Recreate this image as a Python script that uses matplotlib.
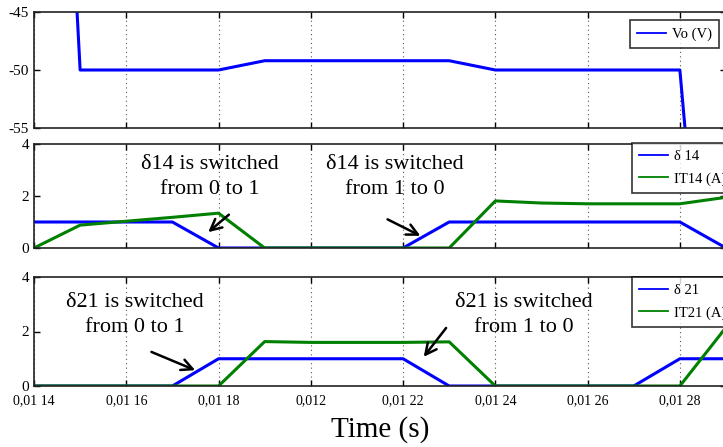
import matplotlib
matplotlib.use('Agg')
import matplotlib.pyplot as plt

plt.rcParams['font.family'] = ['Liberation Serif', 'DejaVu Serif']
plt.rcParams['axes.unicode_minus'] = False

# time samples (s)
t = [0.0114, 0.0115, 0.0116, 0.0117, 0.0118, 0.0119, 0.0120, 0.0121,
     0.0122, 0.0123, 0.0124, 0.0125, 0.0126, 0.0127, 0.0128, 0.0129]

vo = [25, -50, -50, -50, -50, -49.2, -49.2, -49.2,
      -49.2, -49.2, -50, -50, -50, -50, -50, -95]

d14 = [1, 1, 1, 1, 0, 0, 0, 0, 0, 1, 1, 1, 1, 1, 1, 0]
it14 = [0, 0.88, 1.03, 1.18, 1.34, 0, 0, 0, 0, 0, 1.81, 1.73, 1.7, 1.7, 1.7, 1.95]

d21 = [0, 0, 0, 0, 1, 1, 1, 1, 1, 0, 0, 0, 0, 0, 1, 1]
it21 = [0, 0, 0, 0, 0, 1.63, 1.6, 1.6, 1.6, 1.62, 0, 0, 0, 0, 0, 2.15]

xticks = [0.0114, 0.0116, 0.0118, 0.0120, 0.0122, 0.0124, 0.0126, 0.0128]
xticklabels = ['0,01 14', '0,01 16', '0,01 18', '0,012', '0,01 22', '0,01 24', '0,01 26', '0,01 28']

fig = plt.figure(figsize=(7.23, 4.47), dpi=100)
W, H = 723, 447
left = 34 / W
width = 692 / W
ax1 = fig.add_axes([left, (H - 128) / H, width, 116 / H])
ax2 = fig.add_axes([left, (H - 248) / H, width, 104 / H])
ax3 = fig.add_axes([left, (H - 386) / H, width, 109 / H])

blue = '#0000ff'
green = '#008000'

ax1.plot(t, vo, color=blue, lw=2.2, label='Vo (V)')
ax1.set_ylim(-55, -45)
ax1.set_yticks([-55, -50, -45])

ax2.plot(t, d14, color=blue, lw=2.2, label='\u03b4 14')
ax2.plot(t, it14, color=green, lw=2.2, label='IT14 (A)')
ax2.set_ylim(0, 4)
ax2.set_yticks([0, 2, 4])

ax3.plot(t, d21, color=blue, lw=2.2, label='\u03b4 21')
ax3.plot(t, it21, color=green, lw=2.2, label='IT21 (A)')
ax3.set_ylim(0, 4)
ax3.set_yticks([0, 2, 4])

for ax in (ax1, ax2, ax3):
    ax.set_xlim(0.0114, 0.0129)
    ax.set_xticks(xticks)
    ax.xaxis.grid(True, linestyle=(0, (1, 3)), color='#555555', lw=0.8)
    ax.tick_params(direction='in', top=True, right=True, labelsize=11, length=4, width=1)
    for s in ax.spines.values():
        s.set_linewidth(1.2)
        s.set_color('#222222')
    if ax is not ax3:
        ax.set_xticklabels([])
ax3.set_xticklabels(xticklabels, fontsize=10)
ax3.tick_params(axis='x', pad=6)
ax3.set_xlabel('Time (s)', fontsize=21, labelpad=6)

leg_kw = dict(frameon=True, fancybox=False, edgecolor='black', handlelength=2.0,
              handletextpad=0.4, borderpad=0.5, borderaxespad=0, fontsize=10.5,
              loc='upper left')
l1 = ax1.legend(bbox_to_anchor=(0.861, 0.931), **leg_kw)
l2 = ax2.legend(bbox_to_anchor=(0.864, 1.01), labelspacing=0.6, **leg_kw)
l3 = ax3.legend(bbox_to_anchor=(0.864, 1.0), labelspacing=0.6, **leg_kw)
for lg in (l1, l2, l3):
    lg.get_frame().set_linewidth(1.2)
    for ln in lg.get_lines():
        ln.set_linewidth(1.3)

txt_kw = dict(fontsize=16, ha='center', va='center', linespacing=1.4)
arrow = dict(arrowstyle='->', color='black', lw=1.8, mutation_scale=20)

ax2.text(0.011781, 2.72, '\u03b414 is switched\nfrom 0 to 1', **txt_kw)
ax2.annotate('', xy=(0.011773, 0.54), xytext=(0.011827, 1.35), arrowprops=arrow)
ax2.text(0.012182, 2.72, '\u03b414 is switched\nfrom 1 to 0', **txt_kw)
ax2.annotate('', xy=(0.012243, 0.42), xytext=(0.012161, 1.15), arrowprops=arrow)

ax3.text(0.011619, 2.6, '\u03b421 is switched\nfrom 0 to 1', **txt_kw)
ax3.annotate('', xy=(0.011755, 0.54), xytext=(0.011649, 1.29), arrowprops=arrow)
ax3.text(0.012462, 2.6, '\u03b421 is switched\nfrom 1 to 0', **txt_kw)
ax3.annotate('', xy=(0.012241, 0.99), xytext=(0.012297, 2.21), arrowprops=arrow)

fig.savefig('out.png', dpi=100)
